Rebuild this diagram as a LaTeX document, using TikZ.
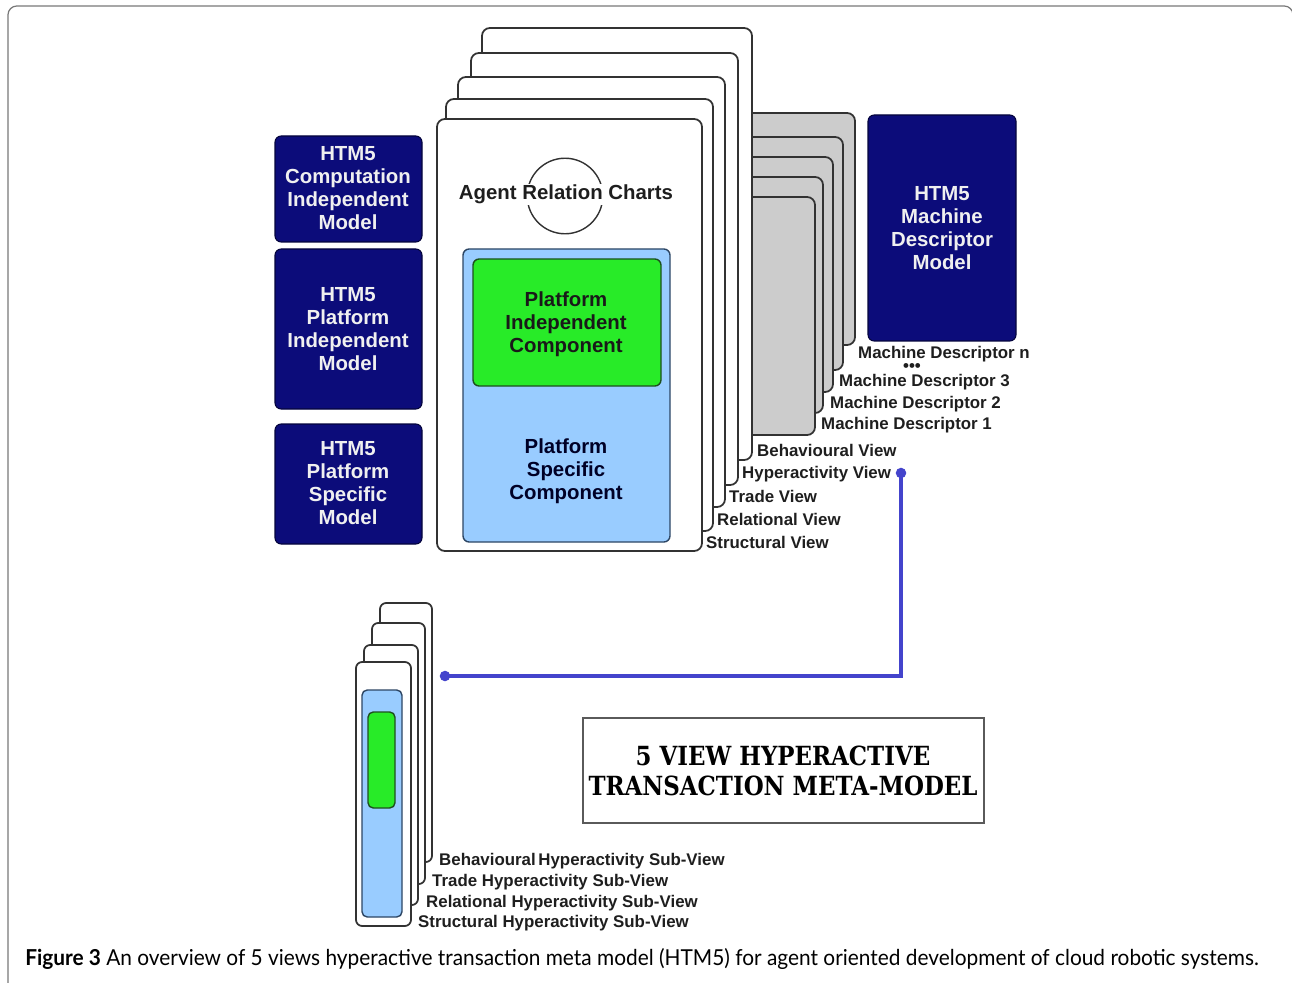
\documentclass[tikz,border=0pt]{standalone}
\usepackage{fontspec}
\setmainfont{Liberation Sans}
\newfontfamily\titlefont{DejaVu Serif}
\newfontfamily\capfont{Lato}
\usetikzlibrary{fit,calc}
\definecolor{navyfill}{RGB}{12,12,122}
\definecolor{navyedge}{RGB}{5,5,60}
\definecolor{pageedge}{RGB}{50,50,50}
\definecolor{mdfill}{RGB}{204,204,204}
\definecolor{pscfill}{RGB}{153,204,255}
\definecolor{pscedge}{RGB}{45,70,100}
\definecolor{picfill}{RGB}{40,235,40}
\definecolor{picedge}{RGB}{30,80,30}
\definecolor{linkblue}{RGB}{68,68,204}
\definecolor{framegray}{RGB}{120,120,120}
\definecolor{labeltext}{RGB}{30,30,30}
\definecolor{titleedge}{RGB}{90,90,90}
\begin{document}
\begin{tikzpicture}[x=0.02cm,y=-0.02cm,
  navybox/.style={inner sep=0pt, fill=navyfill, draw=navyedge,
    line width=0.6pt, rounded corners=3.5pt},
  navytext/.style={inner sep=0pt, align=center, text=white!94!black,
    font=\bfseries\fontsize{11.6}{13}\selectfont},
  page/.style={inner sep=0pt, fill=white, draw=pageedge, line width=1pt, rounded corners=4.5pt},
  mdpage/.style={page, fill=mdfill},
  smallpage/.style={page, rounded corners=3.5pt},
  lbl/.style={inner sep=0pt, anchor=base west, text=labeltext,
    font=\bfseries\fontsize{9.6}{11}\selectfont},
  comptext/.style={inner sep=0pt, align=center, font=\bfseries\fontsize{11.6}{13}\selectfont},
  link/.style={draw=linkblue, line width=2.2pt},
  linkdot/.style={circle, fill=linkblue, inner sep=0pt, minimum size=6pt}
]
\useasboundingbox (0,0) rectangle (1292,983);

% figure frame
\draw[framegray, line width=0.7pt, rounded corners=5pt] (8,1010) -- (8,6) -- (1293,6) -- (1293,1010);

% left-hand model boxes
\node[navybox, fit={(275,136) (422,242)}] (cim) {};
\node[navytext] (cimtext) at (348,188) {HTM5\\Computation\\Independent\\Model};
\node[navybox, fit={(275,249) (422,409)}] (pim) {};
\node[navytext] (pimtext) at (348,329) {HTM5\\Platform\\Independent\\Model};
\node[navybox, fit={(275,424) (422,544)}] (psm) {};
\node[navytext] (psmtext) at (348,483) {HTM5\\Platform\\Specific\\Model};

% machine descriptor stack (behind the view pages)
\node[mdpage, fit={(745,113) (855,345)}] (mdn) {};
\node[mdpage, fit={(745,137) (843,370)}] (mdx) {};
\node[mdpage, fit={(745,157) (833,392)}] (md3) {};
\node[mdpage, fit={(745,177) (823,413)}] (md2) {};
\node[mdpage, fit={(745,197) (815,435)}] (md1) {};

% view pages, back to front
\node[page, fit={(482,28) (752,460)}] (vbeh) {};
\node[page, fit={(471,53) (738,485)}] (vhyp) {};
\node[page, fit={(458,77) (725,507)}] (vtrd) {};
\node[page, fit={(446,99) (713,531)}] (vrel) {};
\node[page, fit={(437,119) (702,551)}] (vstr) {};

% view labels
\node[lbl] (lbeh) at ($(vbeh.south east)+(4,-4)$) {Behavioural View};
\node[lbl] (lhyp) at ($(vhyp.south east)+(3,-7)$) {Hyperactivity View};
\node[lbl] (ltrd) at ($(vtrd.south east)+(3,-5)$) {Trade View};
\node[lbl] (lrel) at ($(vrel.south east)+(3,-6)$) {Relational View};
\node[lbl] (lstr) at ($(vstr.south east)+(3,-3)$) {Structural View};

% machine descriptor labels
\node[lbl] (lmdn) at ($(mdn.south east)+(2,13)$) {Machine Descriptor n};
\node[inner sep=0pt, anchor=base, text height=4.4pt, text depth=0pt, text=labeltext,
  font=\bfseries\fontsize{9.6}{11}\selectfont] (ldots) at (912,372) {•••};
\node[lbl] (lmd3) at ($(md3.south east)+(5,-6)$) {Machine Descriptor 3};
\node[lbl] (lmd2) at ($(md2.south east)+(6,-5)$) {Machine Descriptor 2};
\node[lbl] (lmd1) at ($(md1.south east)+(5,-6)$) {Machine Descriptor 1};

% machine descriptor model
\node[navybox, fit={(868,115) (1016,341)}] (mdm) {};
\node[navytext] (mdmtext) at (942,228) {HTM5\\Machine\\Descriptor\\Model};

% agent relation charts
\node[draw=pageedge, line width=0.8pt, circle, minimum size=43pt, inner sep=0pt] (arc) at (565,196) {};
\node[fill=white, inner sep=0.5pt, anchor=base, text=labeltext,
  font=\bfseries\fontsize{11.6}{13}\selectfont] (arctext) at (566,200) {Agent Relation Charts};

% components
\node[inner sep=0pt, fill=pscfill, draw=pscedge, line width=0.8pt, rounded corners=3.5pt,
  fit={(463,249) (670,542)}] (psc) {};
\node[inner sep=0pt, fill=picfill, draw=picedge, line width=0.8pt, rounded corners=3.5pt,
  fit={(473,259) (661,386)}] (pic) {};
\node[comptext, text=black!90] (pictext) at (566,324) {Platform\\Independent\\Component};
\node[comptext, text=black!85!blue] (psctext) at (566,471) {Platform\\Specific\\Component};

% sub-view stack
\node[smallpage, fit={(380,603) (432,862)}] (sbeh) {};
\node[smallpage, fit={(372,623) (425,884)}] (strd) {};
\node[smallpage, fit={(364,645) (418,905)}] (srel) {};
\node[smallpage, fit={(356,662) (411,926)}] (sstr) {};
\node[inner sep=0pt, fill=pscfill, draw=pscedge, line width=0.8pt, rounded corners=3pt,
  fit={(362,690) (402,917)}] (spsc) {};
\node[inner sep=0pt, fill=picfill, draw=picedge, line width=0.8pt, rounded corners=3pt,
  fit={(368,712) (395,808)}] (spic) {};

\node[lbl] (lsbeh) at ($(sbeh.south east)+(6,3)$) {Behavioural\hspace{1.5pt}Hyperactivity Sub-View};
\node[lbl] (lstrd) at ($(strd.south east)+(6,2)$) {Trade Hyperactivity Sub-View};
\node[lbl] (lsrel) at ($(srel.south east)+(7,2)$) {Relational Hyperactivity Sub-View};
\node[lbl] (lsstr) at ($(sstr.south east)+(6,1)$) {Structural Hyperactivity Sub-View};

% hyperactivity connector
\node[linkdot] (dview) at (901,473) {};
\node[linkdot] (dsub) at (445,676) {};
\draw[link] (dview.center) |- (dsub.center);

% title box
\node[inner sep=0pt, draw=titleedge, line width=1.2pt, fit={(583,718) (984,823)}] (tbox) {};
\node[inner sep=0pt, align=center, font=\titlefont\bfseries\fontsize{15}{17}\selectfont]
  (ttext) at (783,771) {\scalebox{0.87}[1]{5 VIEW HYPERACTIVE}\\\scalebox{0.87}[1]{TRANSACTION META-MODEL}};

% caption
\node[inner sep=0pt, anchor=base west, font=\capfont\fontsize{12.5}{14}\selectfont] (caption)
  at (25,965) {\scalebox{0.95}[1]{\textbf{Figure 3} An overview of 5 views hyperactive transaction meta model (HTM5) for agent oriented development of cloud robotic systems.}};
\end{tikzpicture}
\end{document}
